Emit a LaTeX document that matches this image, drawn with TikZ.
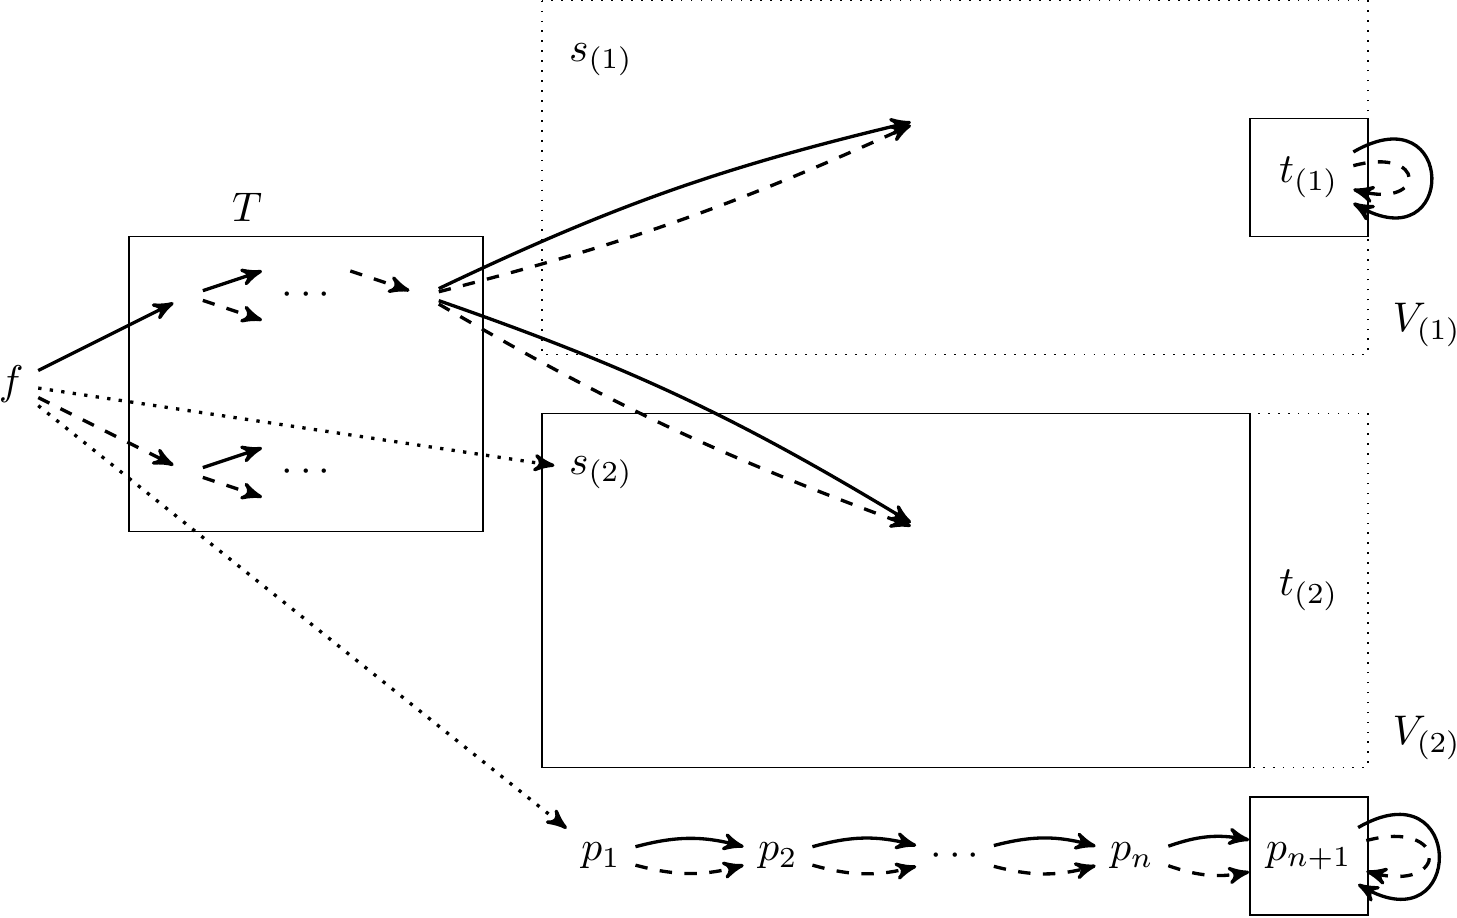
\documentclass[tikz,border=0pt]{standalone}
\usepackage{amsmath}
\usepackage{tikz}
\usetikzlibrary{arrows}

\begin{document}
\begin{tikzpicture}[x=0.5cm, y=0.5cm, >=stealth',
  sol/.style={->, thick}, das/.style={->, thick, dashed},
  dot/.style={->, thick, dotted}, state/.style={draw, minimum size=1cm}]
          \useasboundingbox (-9.19,0.01) rectangle (15.51,-15.55);%

          % regions
          \draw [dotted] (0,0) rectangle (14,-6);%
          \draw [dotted] (0,-7) rectangle (14,-13);%
          \draw (0,-7) rectangle (12,-13);%
          \draw (-7,-4) rectangle (-1,-9);%
          \node (vone) at (15,-5.5) {\( V_{(1)} \)};%
          \node (vtwo) at (15,-12.5) {\( V_{(2)} \)};%
          \node (T) at (-5,-3.5) {\( T \)};%

          \node (f) at (-9,-6.5) {\( f \)};%
          \node (a) at (-6,-5) {};%
          \node (au) at (-4.5,-4.5) {};%
          \node (ad) at (-4.5,-5.5) {};%
          \node (adots) at (-4,-5) {\( \cdots \)};%
          \node (b) at (-3.5,-4.5) {};%
          \node (c) at (-2,-5) {};%
          \node (e) at (-6,-8) {};%
          \node (eu) at (-4.5,-7.5) {};%
          \node (ed) at (-4.5,-8.5) {};%
          \node (edots) at (-4,-8) {\( \cdots \)};%

          \node (s1) at (1,-1) {\( s_{(1)} \)};%
          \node (s2) at (1,-8) {\( s_{(2)} \)};%
          \node (g1) at (6.5,-2) {};%
          \node (g2) at (6.5,-9) {};%
          \node [state] (tbox) at (13,-3) {};%
          \node (t1) at (13,-3) {\( t_{(1)} \)};%
          \node (t2) at (13,-10) {\( t_{(2)} \)};%

          \node (p1) at (1,-14.5) {\( p_1 \)};%
          \node (p2) at (4,-14.5) {\( p_2 \)};%
          \node (pdots) at (7,-14.5) {\( \cdots \)};%
          \node (pn) at (10,-14.5) {\( p_n \)};%
          \node [state] (pbox) at (13,-14.5) {};%
          \node (pm) at (13,-14.5) {\( p_{n+1} \)};%

          % plays from f
          \draw [sol] (f) -- (a);%
          \draw [das] (f) -- (e);%
          \draw [dot] (f) -- (s2);%
          \draw [dot] (f) -- (p1);%

          % inside T
          \draw [sol] (a) -- (au);%
          \draw [das] (a) -- (ad);%
          \draw [das] (b) -- (c);%
          \draw [sol] (e) -- (eu);%
          \draw [das] (e) -- (ed);%

          \draw [sol] (c) edge [bend left=6] (g1);%
          \draw [das] (c) edge [bend right=5] (g1);%
          \draw [sol] (c) edge [bend left=6] (g2);%
          \draw [das] (c) edge [bend right=5] (g2);%

          % self loops
          \draw [sol] (t1) edge [out=30, in=-30, looseness=6] (t1);%
          \draw [das] (t1) edge [out=15, in=-15, looseness=8.2] (t1);%
          \draw [sol] (pm) edge [out=30, in=-30, looseness=5.6] (pm);%
          \draw [das] (pm) edge [out=15, in=-15, looseness=7.2] (pm);%

          % path p
          \draw [sol] (p1) edge [bend left=15] (p2) (p2) edge [bend left=15]
          (pdots) (pdots) edge [bend left=15] (pn) (pn) edge [bend left=15]
          (pbox);%
          \draw [das] (p1) edge [bend right=15] (p2) (p2) edge [bend right=15]
          (pdots) (pdots) edge [bend right=15] (pn) (pn) edge [bend right=15]
          (pbox);%

        \end{tikzpicture}
\end{document}
